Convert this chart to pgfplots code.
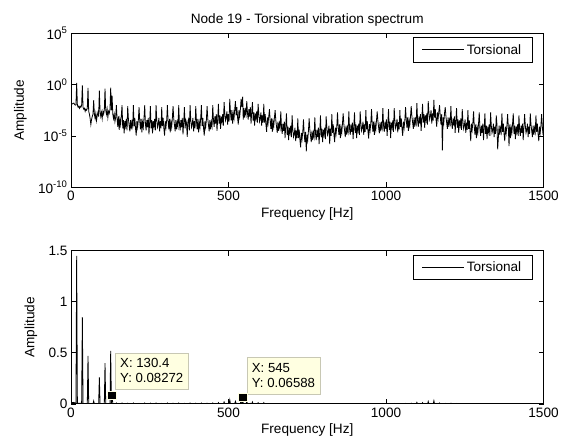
\documentclass[border=0pt]{standalone}
\usepackage{pgfplots}
\pgfplotsset{compat=1.18}
\usepackage{pgfplotstable}
\usepackage{fontspec}
\setmainfont{Liberation Sans}
\definecolor{tipfill}{RGB}{255,255,225}
\definecolor{tipedge}{RGB}{200,200,180}

\pgfplotstableread[row sep=\\]{
f a\\
0 1.6e-2\\ 2.25 1.4e-2\\ 4.5 1.3e-2\\ 6.75 1.5e-2\\ 9 1.6e-2\\ 11.25 1.2e-2\\ 13.5 1e-2\\ 15.75 1.1e-2\\
18 1.45\\ 20.25 1e-2\\ 22.5 6.3e-3\\ 24.75 7.9e-3\\ 27 5e-3\\ 29.25 7.9e-3\\ 31.5 6.3e-3\\ 33.75 1e-2\\
36 0.85\\ 38.25 6.3e-3\\ 40.5 4e-3\\ 42.75 5e-3\\ 45 2.5e-3\\ 47.25 4e-3\\ 49.5 3.2e-3\\ 51.75 5e-3\\
54 0.47\\ 56.25 2.5e-3\\ 58.5 1.3e-3\\ 60.75 5e-4\\ 63 1.3e-4\\ 65.25 4e-4\\ 67.5 7.9e-4\\ 69.75 1.3e-3\\
72 0.03\\ 74.25 1.3e-3\\ 76.5 5e-4\\ 78.75 1.6e-3\\ 81 3.2e-4\\ 83.25 1e-3\\ 85.5 2e-3\\ 87.75 7.9e-4\\
90 0.26\\ 92.25 2.5e-3\\ 94.5 7.9e-4\\ 96.75 2e-3\\ 99 5e-4\\ 101.25 2.5e-3\\ 103.5 1.3e-3\\ 105.75 3.2e-3\\
108 0.40\\ 110.25 3.2e-3\\ 112.5 1.3e-3\\ 114.75 4e-3\\ 117 6.3e-4\\ 119.25 2.5e-3\\ 121.5 1.6e-3\\ 123.75 4e-3\\
126 0.52\\ 128.25 3.2e-3\\ 130.4 0.08272\\ 132.75 1.3e-3\\ 135 5e-4\\ 137.25 1.3e-3\\ 139.5 2.5e-4\\ 141.75 6.3e-4\\
144 1e-2\\ 146.25 5e-4\\ 148.5 7.9e-5\\ 150.75 7.9e-4\\ 153 4e-5\\ 155.25 4e-4\\ 157.5 1.3e-4\\ 159.75 1e-3\\
162 1e-2\\ 164.25 5.6e-5\\ 166.5 3.5e-4\\ 168.75 1.8e-5\\ 171 2.8e-4\\ 173.25 8.9e-5\\ 175.5 4.5e-4\\ 177.75 3.5e-5\\
180 7.9e-3\\ 182.25 4.5e-4\\ 184.5 1.1e-4\\ 186.75 2.8e-5\\ 189 3.5e-4\\ 191.25 4.5e-5\\ 193.5 2.2e-4\\ 195.75 8.9e-5\\
198 1e-2\\ 200.25 8.9e-5\\ 202.5 5.6e-4\\ 204.75 5.6e-5\\ 207 1.1e-5\\ 209.25 2.8e-4\\ 211.5 7.1e-5\\ 213.75 3.5e-4\\
216 6.3e-3\\ 218.25 2.8e-4\\ 220.5 4.5e-5\\ 222.75 4.5e-4\\ 225 2.2e-5\\ 227.25 2.2e-4\\ 229.5 7.1e-5\\ 231.75 5.6e-4\\
234 1e-2\\ 236.25 1.4e-4\\ 238.5 3.5e-5\\ 240.75 3.5e-4\\ 243 7.1e-5\\ 245.25 5.6e-4\\ 247.5 1.4e-5\\ 249.75 2.2e-4\\
252 7.9e-3\\ 254.25 5.6e-5\\ 256.5 3.5e-4\\ 258.75 1.8e-5\\ 261 2.8e-4\\ 263.25 8.9e-5\\ 265.5 4.5e-4\\ 267.75 3.5e-5\\
270 1e-2\\ 272.25 3.5e-4\\ 274.5 7.1e-5\\ 276.75 1.4e-4\\ 279 5.6e-4\\ 281.25 2.8e-5\\ 283.5 2.8e-4\\ 285.75 5.6e-5\\
288 6.3e-3\\ 290.25 8.9e-5\\ 292.5 5.6e-4\\ 294.75 5.6e-5\\ 297 1.1e-5\\ 299.25 2.8e-4\\ 301.5 7.1e-5\\ 303.75 3.5e-4\\
306 1e-2\\ 308.25 2.8e-4\\ 310.5 4.5e-5\\ 312.75 4.5e-4\\ 315 2.2e-5\\ 317.25 2.2e-4\\ 319.5 7.1e-5\\ 321.75 5.6e-4\\
324 7.9e-3\\ 326.25 4.5e-4\\ 328.5 1.1e-4\\ 330.75 2.8e-5\\ 333 3.5e-4\\ 335.25 4.5e-5\\ 337.5 2.2e-4\\ 339.75 8.9e-5\\
342 1e-2\\ 344.25 1.4e-4\\ 346.5 3.5e-5\\ 348.75 3.5e-4\\ 351 7.1e-5\\ 353.25 5.6e-4\\ 355.5 1.4e-5\\ 357.75 2.2e-4\\
360 6.3e-3\\ 362.25 5.6e-5\\ 364.5 3.5e-4\\ 366.75 1.8e-4\\ 369 8e-6\\ 371.25 2.8e-4\\ 373.5 4.5e-4\\ 375.75 3.5e-5\\
378 1e-2\\ 380.25 3.5e-4\\ 382.5 7.1e-5\\ 384.75 1.4e-4\\ 387 5.6e-4\\ 389.25 2.8e-5\\ 391.5 2.8e-4\\ 393.75 5.6e-5\\
396 7.9e-3\\ 398.25 2.8e-4\\ 400.5 4.5e-5\\ 402.75 4.5e-4\\ 405 2.2e-5\\ 407.25 2.2e-4\\ 409.5 7.1e-5\\ 411.75 5.6e-4\\
414 1e-2\\ 416.25 8.9e-5\\ 418.5 5.6e-4\\ 420.75 5.6e-5\\ 423 1.1e-5\\ 425.25 2.8e-4\\ 427.5 7.1e-5\\ 429.75 3.5e-4\\
432 7.9e-3\\ 434.25 4.5e-4\\ 436.5 1.1e-4\\ 438.75 2.8e-5\\ 441 3.5e-4\\ 443.25 4.5e-5\\ 445.5 2.2e-4\\ 447.75 8.9e-5\\
450 1e-2\\ 452.25 3.2e-4\\ 454.5 7.9e-5\\ 456.75 7.9e-4\\ 459 1.6e-4\\ 461.25 1.3e-3\\ 463.5 3.2e-5\\ 465.75 5e-4\\
468 1.3e-2\\ 470.25 1.6e-4\\ 472.5 1e-3\\ 474.75 5e-5\\ 477 7.9e-4\\ 479.25 2.5e-4\\ 481.5 1.3e-3\\ 483.75 1e-4\\
486 2e-2\\ 488.25 1.6e-3\\ 490.5 3.2e-4\\ 492.75 6.3e-4\\ 495 2.5e-3\\ 497.25 1.3e-4\\ 499.5 1.3e-3\\ 501.75 2.5e-4\\
504 4e-2\\ 506.25 2e-3\\ 508.5 3.2e-4\\ 510.75 3.2e-3\\ 513 1.6e-4\\ 515.25 1.6e-3\\ 517.5 5e-4\\ 519.75 4e-3\\
522 2.5e-2\\ 524.25 1e-3\\ 526.5 6.3e-3\\ 528.75 6.3e-4\\ 531 1.3e-4\\ 533.25 3.2e-3\\ 535.5 7.9e-4\\ 537.75 4e-3\\
540 4e-2\\ 542.25 6.3e-3\\ 545 0.06588\\ 546.75 4e-4\\ 549 5e-3\\ 551.25 6.3e-4\\ 553.5 3.2e-3\\ 555.75 1.3e-3\\
558 2.5e-2\\ 560.25 1.6e-3\\ 562.5 4e-4\\ 564.75 4e-3\\ 567 7.9e-4\\ 569.25 6.3e-3\\ 571.5 1.6e-4\\ 573.75 2.5e-3\\
576 2e-2\\ 578.25 3.2e-4\\ 580.5 2e-3\\ 582.75 1e-4\\ 585 1.6e-3\\ 587.25 5e-4\\ 589.5 2.5e-3\\ 591.75 2e-4\\
594 1.3e-2\\ 596.25 1.3e-3\\ 598.5 2.5e-4\\ 600.75 5e-4\\ 603 2e-3\\ 605.25 1e-4\\ 607.5 1e-3\\ 609.75 2e-4\\
612 1.3e-2\\ 614.25 2e-4\\ 616.5 1.3e-3\\ 618.75 1.3e-4\\ 621 2.5e-5\\ 623.25 6.3e-4\\ 625.5 1.6e-4\\ 627.75 7.9e-4\\
630 4e-3\\ 632.25 3.2e-4\\ 634.5 5e-5\\ 636.75 5e-4\\ 639 2.5e-5\\ 641.25 2.5e-4\\ 643.5 7.9e-5\\ 645.75 6.3e-4\\
648 3.2e-3\\ 650.25 3.2e-4\\ 652.5 7.9e-5\\ 654.75 2e-5\\ 657 2.5e-4\\ 659.25 3.2e-5\\ 661.5 1.6e-4\\ 663.75 6.3e-5\\
666 2.5e-3\\ 668.25 6.3e-5\\ 670.5 1.6e-5\\ 672.75 1.6e-4\\ 675 3.2e-5\\ 677.25 2.5e-4\\ 679.5 6.3e-6\\ 681.75 1e-4\\
684 1.6e-3\\ 686.25 1.3e-5\\ 688.5 7.9e-5\\ 690.75 4e-6\\ 693 6.3e-5\\ 695.25 2e-5\\ 697.5 1e-4\\ 699.75 7.9e-6\\
702 1e-3\\ 704.25 4e-5\\ 706.5 7.9e-6\\ 708.75 1.6e-5\\ 711 6.3e-5\\ 713.25 3.2e-6\\ 715.5 3.2e-5\\ 717.75 6.3e-6\\
720 5e-4\\ 722.25 6.3e-6\\ 724.5 4e-5\\ 726.75 4e-6\\ 729 7.9e-7\\ 731.25 2e-5\\ 733.5 5e-6\\ 735.75 2.5e-5\\
738 4e-4\\ 740.25 1.6e-5\\ 742.5 2.5e-6\\ 744.75 2.5e-5\\ 747 3.2e-7\\ 749.25 1.3e-5\\ 751.5 4e-6\\ 753.75 3.2e-5\\
756 5e-4\\ 758.25 4e-5\\ 760.5 1e-5\\ 762.75 2.5e-6\\ 765 3.2e-5\\ 767.25 4e-6\\ 769.5 2e-5\\ 771.75 7.9e-6\\
774 6.3e-4\\ 776.25 1.6e-5\\ 778.5 4e-6\\ 780.75 4e-5\\ 783 7.9e-6\\ 785.25 6.3e-5\\ 787.5 1.6e-6\\ 789.75 2.5e-5\\
792 1e-3\\ 794.25 7.9e-6\\ 796.5 5e-5\\ 798.75 2.5e-6\\ 801 4e-5\\ 803.25 1.3e-5\\ 805.5 6.3e-5\\ 807.75 5e-6\\
810 7.9e-4\\ 812.25 6.3e-5\\ 814.5 1.3e-5\\ 816.75 2.5e-5\\ 819 1e-4\\ 821.25 1.6e-6\\ 823.5 5e-5\\ 825.75 1e-5\\
828 1.3e-3\\ 830.25 2e-5\\ 832.5 1.3e-4\\ 834.75 1.3e-5\\ 837 2.5e-6\\ 839.25 6.3e-5\\ 841.5 1.6e-5\\ 843.75 7.9e-5\\
846 2e-3\\ 848.25 7.9e-5\\ 850.5 1.3e-5\\ 852.75 1.3e-4\\ 855 6.3e-6\\ 857.25 6.3e-5\\ 859.5 2e-5\\ 861.75 1.6e-4\\
864 1.6e-3\\ 866.25 1.3e-4\\ 868.5 3.2e-5\\ 870.75 7.9e-6\\ 873 1e-4\\ 875.25 1.3e-5\\ 877.5 6.3e-5\\ 879.75 2.5e-5\\
882 2.5e-3\\ 884.25 5e-5\\ 886.5 1.3e-5\\ 888.75 1.3e-4\\ 891 2.5e-5\\ 893.25 2e-4\\ 895.5 5e-6\\ 897.75 7.9e-5\\
900 2e-3\\ 902.25 2e-5\\ 904.5 1.3e-4\\ 906.75 6.3e-6\\ 909 1e-4\\ 911.25 3.2e-5\\ 913.5 1.6e-4\\ 915.75 1.3e-5\\
918 2.5e-3\\ 920.25 1.6e-4\\ 922.5 3.2e-5\\ 924.75 6.3e-5\\ 927 2.5e-4\\ 929.25 1.3e-5\\ 931.5 1.3e-4\\ 933.75 2.5e-5\\
936 3.2e-3\\ 938.25 4.5e-5\\ 940.5 2.8e-4\\ 942.75 2.8e-5\\ 945 5.6e-6\\ 947.25 1.4e-4\\ 949.5 3.5e-5\\ 951.75 1.8e-4\\
954 4e-3\\ 956.25 1.6e-4\\ 958.5 2.5e-5\\ 960.75 2.5e-4\\ 963 1.3e-5\\ 965.25 1.3e-4\\ 967.5 4e-5\\ 969.75 3.2e-4\\
972 2.5e-3\\ 974.25 2.8e-4\\ 976.5 7.1e-5\\ 978.75 1.8e-5\\ 981 2.2e-4\\ 983.25 2.8e-5\\ 985.5 1.4e-4\\ 987.75 5.6e-5\\
990 5e-3\\ 992.25 1e-4\\ 994.5 2.5e-5\\ 996.75 2.5e-4\\ 999 5e-5\\ 1001.25 4e-4\\ 1003.5 1e-5\\ 1005.75 1.6e-4\\
1008 4e-3\\ 1010.25 4e-5\\ 1012.5 2.5e-4\\ 1014.75 6.3e-6\\ 1017 2e-4\\ 1019.25 6.3e-5\\ 1021.5 3.2e-4\\ 1023.75 2.5e-5\\
1026 5e-3\\ 1028.25 2.8e-4\\ 1030.5 5.6e-5\\ 1032.75 1.1e-4\\ 1035 4.5e-4\\ 1037.25 2.2e-5\\ 1039.5 2.2e-4\\ 1041.75 4.5e-5\\
1044 3.2e-3\\ 1046.25 7.9e-5\\ 1048.5 5e-4\\ 1050.75 5e-5\\ 1053 1e-5\\ 1055.25 2.5e-4\\ 1057.5 6.3e-5\\ 1059.75 3.2e-4\\
1062 6.3e-3\\ 1064.25 4e-4\\ 1066.5 6.3e-5\\ 1068.75 6.3e-4\\ 1071 3.2e-5\\ 1073.25 3.2e-4\\ 1075.5 1e-4\\ 1077.75 7.9e-4\\
1080 7.9e-3\\ 1082.25 7.9e-4\\ 1084.5 2e-4\\ 1086.75 5e-5\\ 1089 6.3e-4\\ 1091.25 7.9e-5\\ 1093.5 4e-4\\ 1095.75 1.6e-4\\
1098 1.6e-2\\ 1100.25 3.2e-4\\ 1102.5 7.9e-5\\ 1104.75 7.9e-4\\ 1107 1.6e-4\\ 1109.25 1.3e-3\\ 1111.5 3.2e-5\\ 1113.75 5e-4\\
1116 1.3e-2\\ 1118.25 2e-4\\ 1120.5 1.3e-3\\ 1122.75 6.3e-5\\ 1125 1e-3\\ 1127.25 3.2e-4\\ 1129.5 1.6e-3\\ 1131.75 1.3e-4\\
1134 2.5e-2\\ 1136.25 2e-3\\ 1138.5 4e-4\\ 1140.75 7.9e-4\\ 1143 3.2e-3\\ 1145.25 1.6e-4\\ 1147.5 1.6e-3\\ 1149.75 3.2e-4\\
1152 3.2e-2\\ 1154.25 6.3e-4\\ 1156.5 4e-3\\ 1158.75 4e-4\\ 1161 7.9e-5\\ 1163.25 2e-3\\ 1165.5 5e-4\\ 1167.75 2.5e-3\\
1170 1e-2\\ 1172.25 7.9e-4\\ 1174.5 1.3e-4\\ 1176.75 1.3e-3\\ 1179 4e-7\\ 1181.25 6.3e-4\\ 1183.5 2e-4\\ 1185.75 1.6e-3\\
1188 6.3e-3\\ 1190.25 7.9e-4\\ 1192.5 2e-4\\ 1194.75 5e-5\\ 1197 6.3e-4\\ 1199.25 7.9e-5\\ 1201.5 4e-4\\ 1203.75 1.6e-4\\
1206 7.9e-3\\ 1208.25 2e-4\\ 1210.5 5e-5\\ 1212.75 5e-4\\ 1215 1e-4\\ 1217.25 7.9e-4\\ 1219.5 2e-5\\ 1221.75 3.2e-4\\
1224 5e-3\\ 1226.25 6.3e-5\\ 1228.5 4e-4\\ 1230.75 2e-5\\ 1233 3.2e-4\\ 1235.25 1e-4\\ 1237.5 5e-4\\ 1239.75 4e-5\\
1242 4e-3\\ 1244.25 2.5e-4\\ 1246.5 5e-5\\ 1248.75 1e-4\\ 1251 4e-4\\ 1253.25 2e-5\\ 1255.5 2e-4\\ 1257.75 4e-5\\
1260 3.2e-3\\ 1262.25 5e-5\\ 1264.5 3.2e-4\\ 1266.75 3.2e-5\\ 1269 3.2e-6\\ 1271.25 1.6e-4\\ 1273.5 4e-5\\ 1275.75 2e-4\\
1278 2.5e-3\\ 1280.25 7.9e-5\\ 1282.5 1.3e-5\\ 1284.75 1.3e-4\\ 1287 6.3e-6\\ 1289.25 6.3e-5\\ 1291.5 2e-5\\ 1293.75 1.6e-4\\
1296 2e-3\\ 1298.25 4e-5\\ 1300.5 1e-5\\ 1302.75 1e-4\\ 1305 2e-5\\ 1307.25 1.6e-4\\ 1309.5 4e-6\\ 1311.75 6.3e-5\\
1314 1.6e-3\\ 1316.25 1.6e-5\\ 1318.5 1e-4\\ 1320.75 5e-6\\ 1323 7.9e-5\\ 1325.25 2.5e-5\\ 1327.5 1.3e-4\\ 1329.75 1e-5\\
1332 2e-3\\ 1334.25 1e-4\\ 1336.5 2e-5\\ 1338.75 4e-5\\ 1341 1.6e-4\\ 1343.25 7.9e-6\\ 1345.5 7.9e-5\\ 1347.75 1.6e-5\\
1350 1e-3\\ 1352.25 1.3e-4\\ 1354.5 5e-7\\ 1356.75 7.9e-6\\ 1359 1e-4\\ 1361.25 1.3e-5\\ 1363.5 6.3e-5\\ 1365.75 2.5e-5\\
1368 1.6e-3\\ 1370.25 2.5e-5\\ 1372.5 1.6e-4\\ 1374.75 1.6e-5\\ 1377 3.2e-6\\ 1379.25 7.9e-5\\ 1381.5 2e-5\\ 1383.75 1e-4\\
1386 1.3e-3\\ 1388.25 7.9e-5\\ 1390.5 1e-6\\ 1392.75 1.3e-4\\ 1395 6.3e-6\\ 1397.25 6.3e-5\\ 1399.5 2e-5\\ 1401.75 1.6e-4\\
1404 1.6e-3\\ 1406.25 1.6e-5\\ 1408.5 1e-4\\ 1410.75 5e-6\\ 1413 7.9e-5\\ 1415.25 2.5e-5\\ 1417.5 1.3e-4\\ 1419.75 1e-5\\
1422 1e-3\\ 1424.25 4e-5\\ 1426.5 1e-5\\ 1428.75 1e-4\\ 1431 2e-5\\ 1433.25 1.6e-4\\ 1435.5 4e-6\\ 1437.75 6.3e-5\\
1440 1.3e-3\\ 1442.25 1e-4\\ 1444.5 2e-5\\ 1446.75 4e-5\\ 1449 1.6e-4\\ 1451.25 7.9e-6\\ 1453.5 7.9e-5\\ 1455.75 1.6e-5\\
1458 1.6e-3\\ 1460.25 1.3e-4\\ 1462.5 3.2e-5\\ 1464.75 7.9e-6\\ 1467 1e-4\\ 1469.25 1.3e-5\\ 1471.5 6.3e-5\\ 1473.75 2.5e-5\\
1476 1e-3\\ 1478.25 2.5e-5\\ 1480.5 1.6e-4\\ 1482.75 1.6e-5\\ 1485 3.2e-6\\ 1487.25 7.9e-5\\ 1489.5 2e-5\\ 1491.75 1e-4\\
1494 1.3e-3\\ 1496.25 7.9e-5\\ 1498.5 1.3e-5\\ 1500 1.3e-4\\
}\spec

\pgfplotsset{
  every axis/.append style={font=\fontsize{13.6bp}{16bp}\selectfont},
  base/.style={
    scale only axis, width=472.5bp,
    xmin=0, xmax=1500, xtick={0,500,1000,1500},
    tick align=inside, major tick length=5bp,
    every tick/.style={black, line width=0.8bp},
    axis line style={line width=1bp},
    /pgf/number format/assume math mode=true,
    /pgf/number format/1000 sep={},
    xlabel={Frequency [Hz]}, ylabel={Amplitude},
    ylabel style={yshift=4.5bp},
    xminorticks=false, yminorticks=false,
    legend style={at={(0.977,0.974)}, anchor=north east, draw=black,
      line width=0.8bp, fill=white, inner xsep=9bp, inner ysep=4.5bp,
      font=\fontsize{13.6bp}{16bp}\selectfont},
    legend cell align=left,
    legend image code/.code={\draw[#1] (0bp,0bp) -- (42bp,0bp);},
  },
}

\begin{document}
\begin{tikzpicture}[x=1bp,y=1bp]
\useasboundingbox (0,0) rectangle (566,443);
\begin{axis}[base, at={(71bp,255.7bp)}, anchor=south west, height=154bp,
  ymode=log, ymin=1e-10, ymax=1e5, ytick={1e-10,1e-5,1,1e5},
  yticklabels={10\textsuperscript{-10},10\textsuperscript{-5},10\textsuperscript{0},10\textsuperscript{5}},
  title={Node 19 - Torsional vibration spectrum}, title style={yshift=-3bp}]
\addplot[black, line width=0.8bp] table[x=f, y=a] {\spec};
\addlegendentry{Torsional}
\end{axis}
\begin{axis}[base, at={(71bp,39bp)}, anchor=south west, height=153.3bp,
  ymin=0, ymax=1.5, ytick={0,0.5,1,1.5}]
\addplot[black, line width=0.8bp] table[x=f, y=a] {\spec};
\addlegendentry{Torsional}
\addplot[only marks, mark=square*, mark size=4.3bp,
  mark options={fill=black, draw=tipfill, line width=0.8bp}, forget plot]
  coordinates {(130.4,0.08272) (545,0.06588)};
\node[draw=tipedge, fill=tipfill, anchor=south west, align=left,
  inner xsep=5bp, inner ysep=6bp, font=\fontsize{13.2bp}{15bp}\selectfont]
  at (axis cs:139.7,0.144) {X: 130.4\\Y: 0.08272};
\node[draw=tipedge, fill=tipfill, anchor=south west, align=left,
  inner xsep=5bp, inner ysep=6bp, font=\fontsize{13.2bp}{15bp}\selectfont]
  at (axis cs:557.8,0.098) {X: 545\\Y: 0.06588};
\end{axis}
\end{tikzpicture}
\end{document}
